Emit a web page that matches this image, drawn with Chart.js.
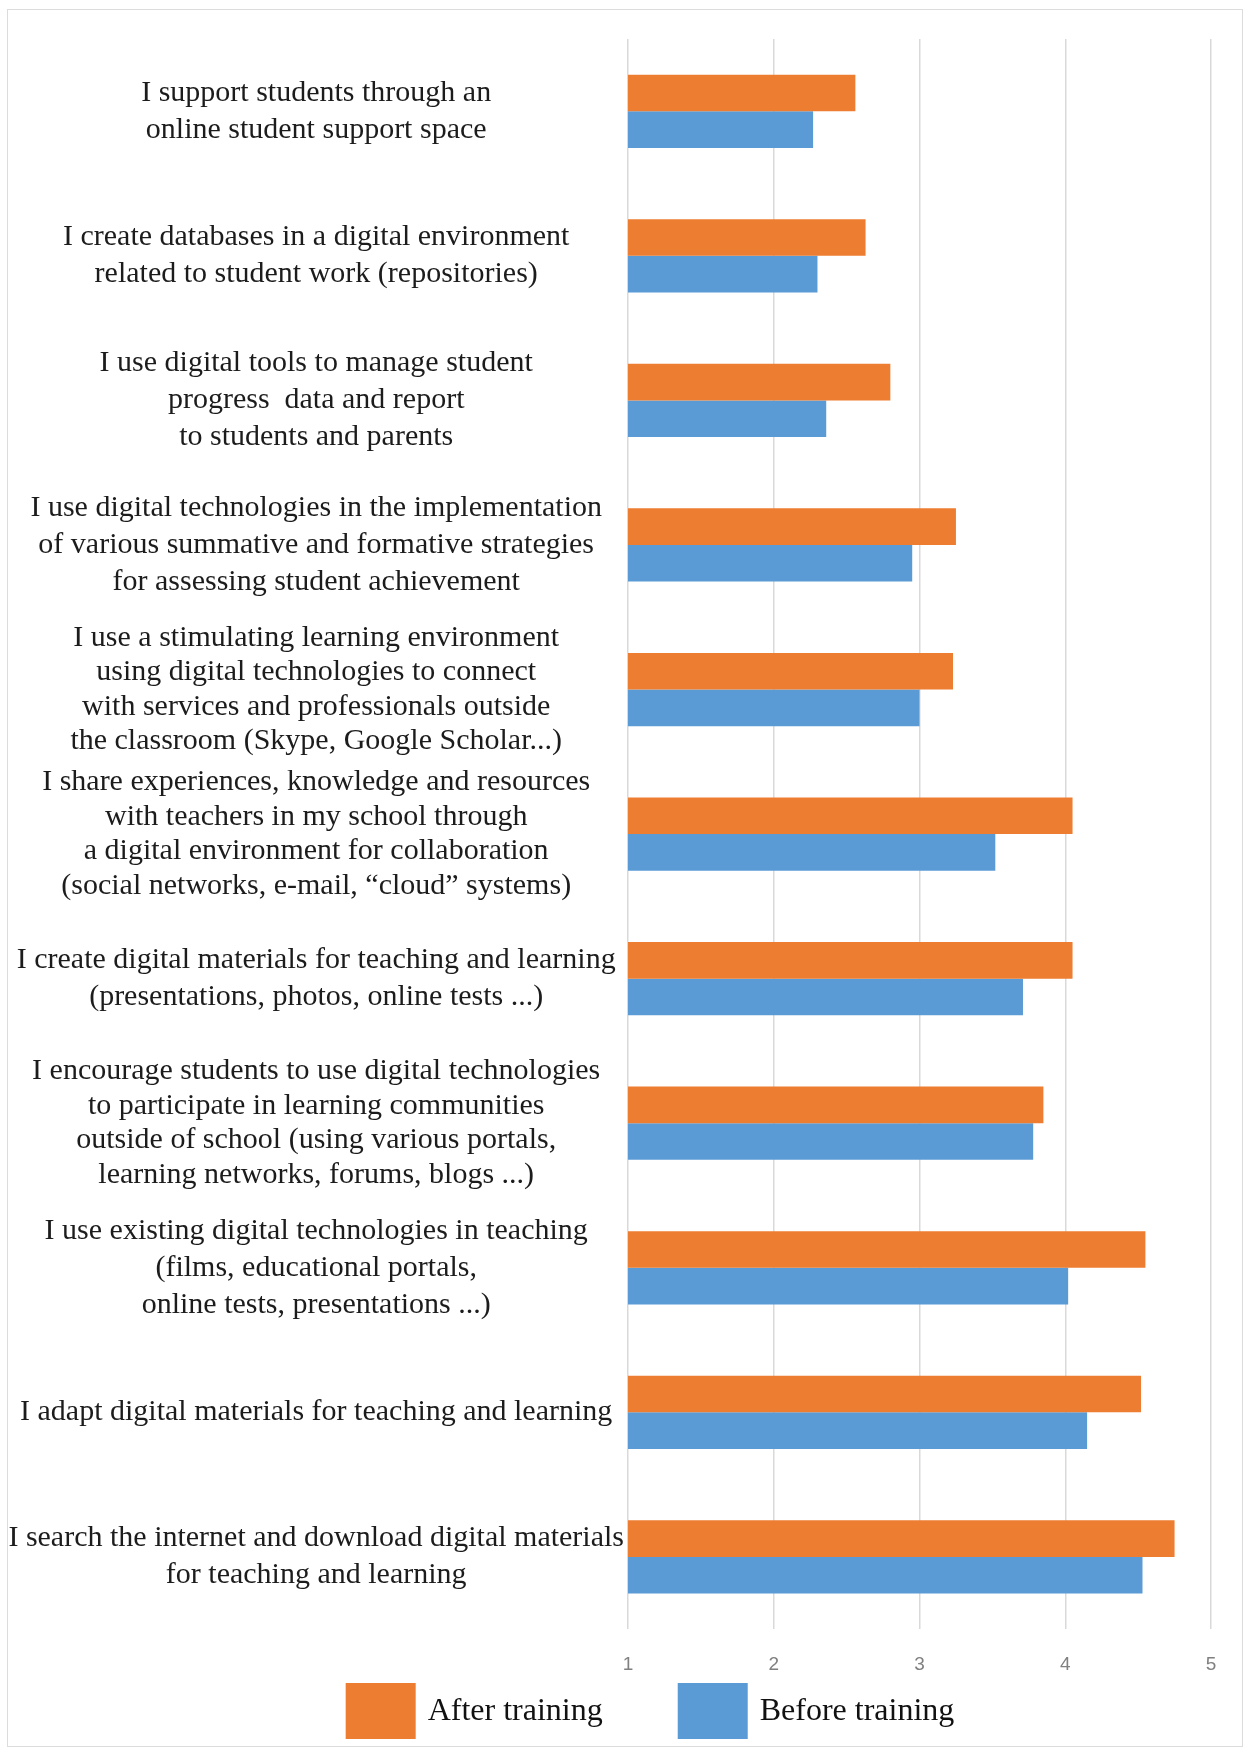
<!DOCTYPE html>
<html>
<head>
<meta charset="utf-8">
<script src="https://cdn.jsdelivr.net/npm/chart.js@4.4.1/dist/chart.umd.min.js"></script>
<style>
  html, body { margin: 0; padding: 0; background: #fff; }
  #wrap { position: relative; width: 1247px; height: 1751px; }
  #frame { position: absolute; left: 7px; top: 9px; width: 1236px; height: 1738px; border: 1px solid #dcdcdc; box-sizing: border-box; pointer-events: none; }
  canvas { position: absolute; left: 0; top: 0; }
</style>
</head>
<body>
<div id="wrap">
  <canvas id="competenceChart" width="1247" height="1751"></canvas>
  <div id="frame"></div>
</div>
<script>
const categories = [
  ['I support students through an', 'online student support space'],
  ['I create databases in a digital environment', 'related to student work (repositories)'],
  ['I use digital tools to manage student', 'progress  data and report', 'to students and parents'],
  ['I use digital technologies in the implementation', 'of various summative and formative strategies', 'for assessing student achievement'],
  ['I use a stimulating learning environment', 'using digital technologies to connect', 'with services and professionals outside', 'the classroom (Skype, Google Scholar...)'],
  ['I share experiences, knowledge and resources', 'with teachers in my school through', 'a digital environment for collaboration', '(social networks, e-mail, \u201Ccloud\u201D systems)'],
  ['I create digital materials for teaching and learning', '(presentations, photos, online tests ...)'],
  ['I encourage students to use digital technologies', 'to participate in learning communities', 'outside of school (using various portals,', 'learning networks, forums, blogs ...)'],
  ['I use existing digital technologies in teaching', '(films, educational portals,', 'online tests, presentations ...)'],
  ['I adapt digital materials for teaching and learning'],
  ['I search the internet and download digital materials', 'for teaching and learning']
];

const afterTraining = [2.56, 2.63, 2.80, 3.25, 3.23, 4.05, 4.05, 3.85, 4.55, 4.52, 4.75];
const beforeTraining = [2.27, 2.30, 2.36, 2.95, 3.00, 3.52, 3.71, 3.78, 4.02, 4.15, 4.53];

const xTicks = [1, 2, 3, 4, 5];

// chart area starts at x=628 in the reference, so pin the label column width
const LABEL_COL = 624;

// big square legend like the original, spaced wider than the built-in one allows
const bottomLegend = {
  id: 'bottomLegend',
  afterDraw(chart) {
    const { ctx } = chart;
    const boxW = 70, boxH = 56, textGap = 12, itemGap = 75;
    ctx.save();
    ctx.font = '32px "Liberation Serif"';
    const items = chart.data.datasets.map(ds => ({
      text: ds.label,
      color: ds.backgroundColor,
      w: ctx.measureText(ds.label).width,
    }));
    const total = items.reduce((s, it) => s + boxW + textGap + it.w, 0) + itemGap * (items.length - 1);
    let x = 650 - total / 2;
    const top = chart.height - 68;
    items.forEach(it => {
      ctx.fillStyle = it.color;
      ctx.fillRect(x, top, boxW, boxH);
      x += boxW + textGap;
      ctx.fillStyle = '#111';
      ctx.textBaseline = 'middle';
      ctx.textAlign = 'left';
      ctx.fillText(it.text, x, top + boxH / 2 + 1);
      x += it.w + itemGap;
    });
    ctx.restore();
  },
};

const ctx = document.getElementById('competenceChart');

new Chart(ctx, {
  type: 'bar',
  data: {
    labels: categories,
    datasets: [
      {
        label: 'After training',
        data: afterTraining,
        backgroundColor: '#ED7D31',
        borderWidth: 0,
        categoryPercentage: 0.507,
        barPercentage: 1.0,
      },
      {
        label: 'Before training',
        data: beforeTraining,
        backgroundColor: '#5B9BD5',
        borderWidth: 0,
        categoryPercentage: 0.507,
        barPercentage: 1.0,
      },
    ],
  },
  options: {
    indexAxis: 'y',
    responsive: false,
    animation: false,
    layout: {
      padding: { left: 4, right: 36, top: 39, bottom: 51 },
    },
    scales: {
      x: {
        min: 1,
        max: 5,
        afterBuildTicks: scale => {
          scale.ticks = xTicks.map(v => ({ value: v }));
        },
        grid: {
          color: '#d9d9d9',
          lineWidth: 1.5,
          drawTicks: false,
        },
        border: { display: false },
        ticks: {
          padding: 24,
          color: '#808080',
          font: { family: 'Liberation Sans', size: 19 },
        },
      },
      y: {
        grid: { display: false },
        border: { display: false },
        afterFit: scale => {
          scale.width = LABEL_COL;
        },
        ticks: {
          autoSkip: false,
          crossAlign: 'center',
          padding: -4,
          color: '#1c1c1c',
          // the four-line labels are set a little tighter in the original
          font: c => ({
            family: 'Liberation Serif',
            size: 30,
            lineHeight: (categories[c.index] || []).length >= 4 ? 1.15 : 1.23,
          }),
        },
      },
    },
    plugins: {
      tooltip: { enabled: false },
      legend: { display: false },
    },
  },
  plugins: [bottomLegend],
});
</script>
</body>
</html>
